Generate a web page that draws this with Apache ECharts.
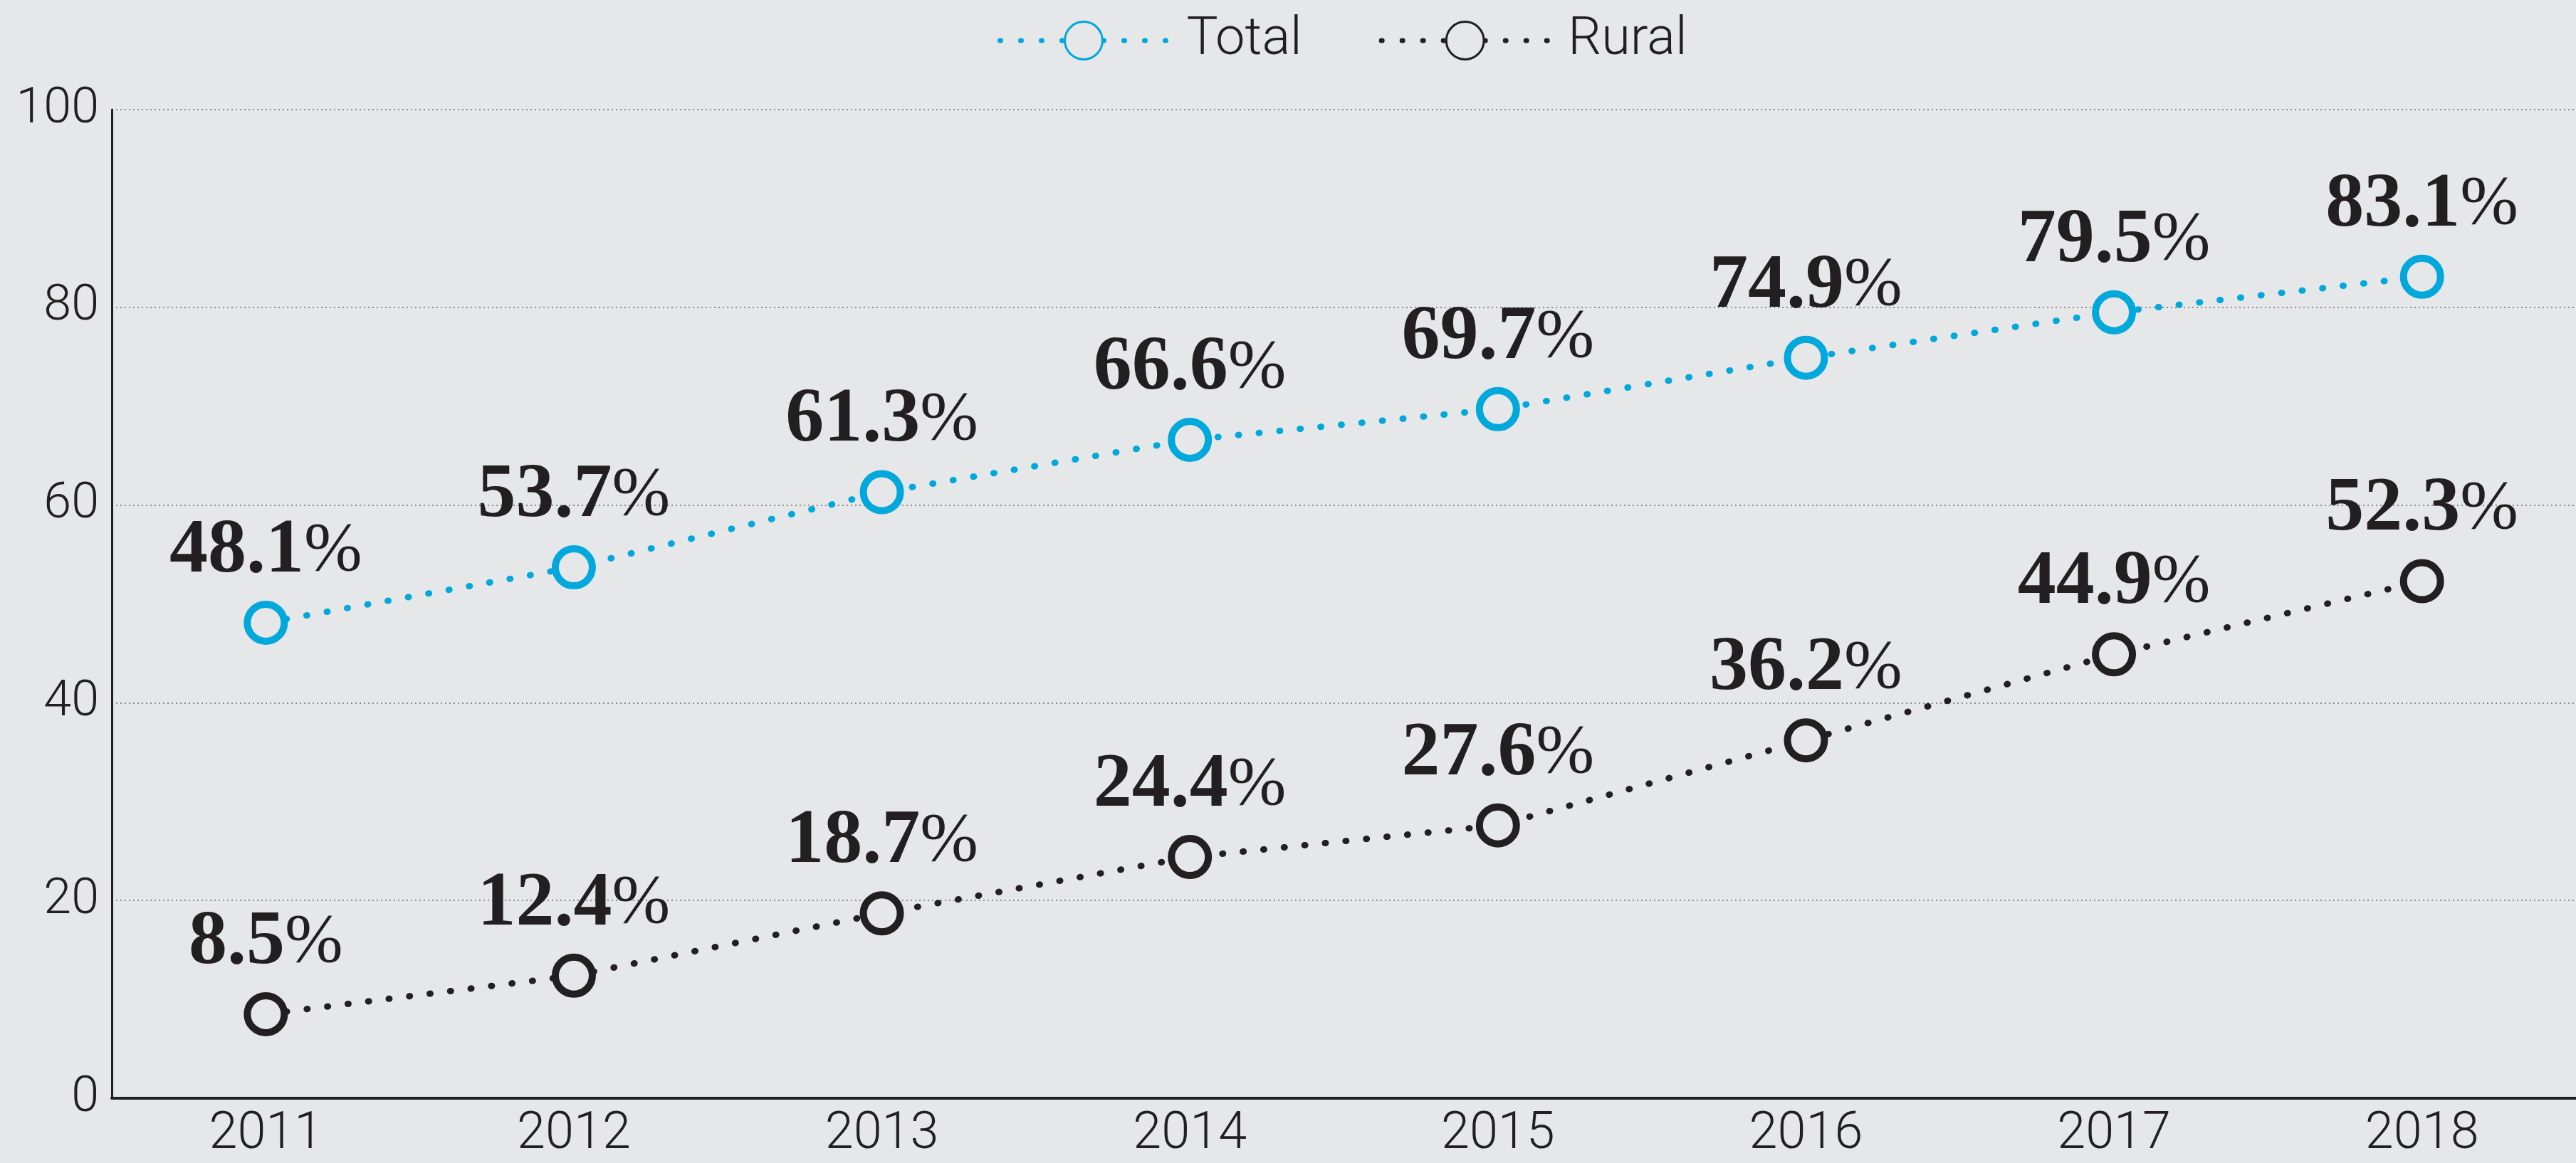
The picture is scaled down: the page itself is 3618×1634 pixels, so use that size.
<!DOCTYPE html>
<html>
<head>
<meta charset="utf-8">
<script src="https://cdn.jsdelivr.net/npm/echarts@6/dist/echarts.min.js"></script>
<style>
  html, body { margin: 0; padding: 0; background: #e6e7e8; }
  #main { width: 3618px; height: 1634px; }
</style>
</head>
<body>
<div id="main"></div>
<script>
var years = ['2011', '2012', '2013', '2014', '2015', '2016', '2017', '2018'];
var totalValues = [48.1, 53.7, 61.3, 66.6, 69.7, 74.9, 79.5, 83.1];
var ruralValues = [8.5, 12.4, 18.7, 24.4, 27.6, 36.2, 44.9, 52.3];

var blue = '#00a8dc';
var ink = '#231f20';
var bg = '#e6e7e8';
var sansFont = 'Roboto, "Liberation Sans", sans-serif';

var myChart = echarts.init(document.getElementById('main'), null, { renderer: 'canvas' });

// label: bold serif number followed by a light percent sign
var pctLabel = {
    show: true,
    position: 'top',
    distance: 14,
    formatter: function (p) {
        return '{n|' + p.value.toFixed(1) + '}{p|%}';
    },
    rich: {
        n: {
            fontFamily: '"Liberation Serif", serif',
            fontWeight: 'bold',
            fontSize: 108,
            lineHeight: 110,
            color: ink
        },
        p: {
            fontFamily: '"Liberation Serif", serif',
            fontWeight: 'normal',
            fontSize: 98,
            lineHeight: 110,
            color: ink
        }
    }
};

function makeSeries(name, data, color) {
    return {
        name: name,
        type: 'line',
        data: data,
        symbol: 'circle',
        symbolSize: 52,
        z: 3,
        lineStyle: {
            color: color,
            width: 9,
            type: [1, 28],
            cap: 'round'
        },
        itemStyle: {
            color: bg,
            borderColor: color,
            borderWidth: 10
        },
        label: pctLabel,
        emphasis: { disabled: true }
    };
}

var option = {
    backgroundColor: bg,
    animation: false,
    legend: {
        top: 15,
        left: 1396,
        itemWidth: 235,
        itemHeight: 66,
        itemGap: 108,
        textStyle: {
            fontFamily: sansFont,
            fontWeight: 300,
            fontSize: 74,
            color: ink,
            padding: [0, 0, 0, 22]
        },
        data: [
            {
                name: 'Total',
                itemStyle: { color: bg, borderColor: blue, borderWidth: 3 },
                lineStyle: { color: blue, width: 7, type: [1, 28], cap: 'round' }
            },
            {
                name: 'Rural',
                itemStyle: { color: bg, borderColor: ink, borderWidth: 3 },
                lineStyle: { color: ink, width: 7, type: [1, 28], cap: 'round' }
            }
        ]
    },
    grid: {
        left: 157,
        right: 0,
        top: 154,
        bottom: 91,
        containLabel: false
    },
    xAxis: {
        type: 'category',
        data: years,
        boundaryGap: true,
        axisLine: { lineStyle: { color: ink, width: 4 } },
        axisTick: { show: false },
        axisLabel: {
            margin: 16,
            fontFamily: sansFont,
            fontWeight: 300,
            fontSize: 72,
            color: ink
        }
    },
    yAxis: {
        type: 'value',
        min: 0,
        max: 100,
        interval: 20,
        axisLine: { show: true, lineStyle: { color: ink, width: 3 } },
        axisTick: { show: false },
        axisLabel: {
            margin: 18,
            fontFamily: sansFont,
            fontWeight: 300,
            fontSize: 70,
            color: ink
        },
        splitLine: {
            show: true,
            lineStyle: { color: '#8c8c8c', width: 2, type: [2, 4] }
        }
    },
    series: [
        makeSeries('Total', totalValues, blue),
        makeSeries('Rural', ruralValues, ink)
    ]
};

myChart.setOption(option);
window.addEventListener('resize', myChart.resize);
</script>
</body>
</html>
